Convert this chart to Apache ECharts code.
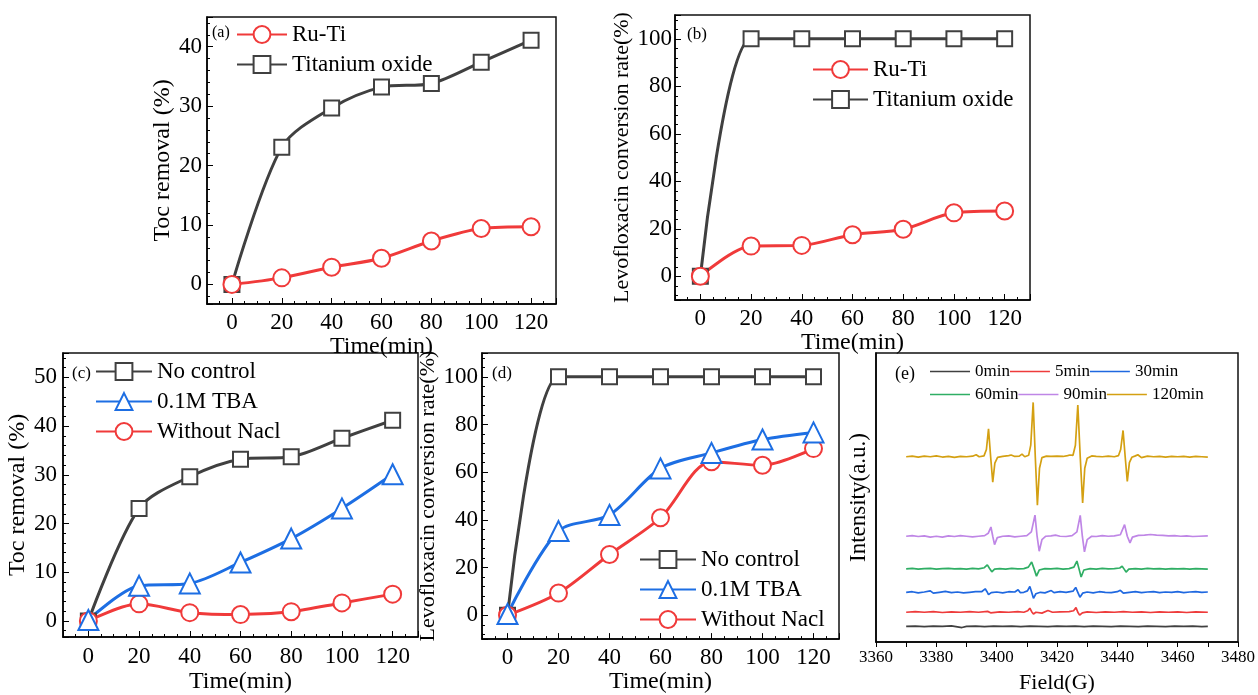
<!DOCTYPE html>
<html>
<head>
<meta charset="utf-8">
<script src="https://cdn.jsdelivr.net/npm/echarts@6/dist/echarts.min.js"></script>
<style>html,body{margin:0;padding:0;background:#fff;}#c{width:1258px;height:695px;}</style>
</head>
<body>
<div id="c"></div>
<script>
// ---------- data ----------
const time = [0, 20, 40, 60, 80, 100, 120];
const timeTicks = [0, 20, 40, 60, 80, 100, 120];
const tocTicksA = [0, 10, 20, 30, 40];
const tocTicksC = [0, 10, 20, 30, 40, 50];
const convTicks = [0, 20, 40, 60, 80, 100];
const fieldTicks = [3360, 3380, 3400, 3420, 3440, 3460, 3480];

const aRuTi = [0, 1.1, 2.9, 4.4, 7.3, 9.4, 9.7];
const aTiO2 = [0, 23.1, 29.7, 33.2, 33.8, 37.4, 41.1];
const bRuTi = [0, 12.7, 13.0, 17.5, 19.8, 26.7, 27.5];
const bTiO2 = [0, 100, 100, 100, 100, 100, 100];
const cNoControl = [0, 23.1, 29.6, 33.2, 33.7, 37.5, 41.2];
const cTBA = [0.2, 7.2, 7.7, 12.0, 16.9, 23.1, 30.1];
const cNoNaCl = [0, 3.5, 1.7, 1.3, 1.9, 3.7, 5.5];
const dNoControl = [0, 100, 100, 100, 100, 100, 100];
const dTBA = [0.5, 35.3, 42.1, 61.6, 68.1, 73.7, 76.7];
const dNoNaCl = [0, 9.3, 25.5, 40.9, 64.4, 62.9, 69.9];

// EPR spectra: baseline offsets (stacking) and [field, signal] pairs
const eprNames = ['0min', '5min', '30min', '60min', '90min', '120min'];
const eprBaseline = [5.4, 10.3, 17.2, 25.3, 36.6, 64.1];
const epr0 = [[3370,0],[3373,0.1],[3376,-0.1],[3379,0.1],[3382,0],[3385,0.15],[3388.5,-0.4],[3390,0],[3393,0.1],[3396,-0.1],[3399,0.1],[3402,0],[3405,0.1],[3408,-0.1],[3411,0.1],[3414,0],[3417,-0.1],[3420,0.1],[3423,0],[3426,0.1],[3429,-0.1],[3432,0.1],[3435,0],[3438,-0.1],[3441,0.1],[3444,0],[3447,-0.1],[3450,0.1],[3453,0],[3456,-0.1],[3459,0.1],[3462,0],[3465,0.1],[3468,-0.1],[3470,0]];
const epr5 = [[3370,0],[3373,0.2],[3376,0],[3379,0.2],[3382,-0.1],[3385,0.1],[3388,0],[3391,0.2],[3394,0],[3397,0.3],[3398,-0.2],[3401,0.1],[3404,0],[3407,0.2],[3409,0],[3410.3,0.5],[3411,1.4],[3411.6,0.2],[3412.2,-0.6],[3413,0],[3415,-0.3],[3417,0.6],[3418.5,0],[3421,0.1],[3424,0.2],[3425.5,0.5],[3426.3,1.6],[3426.9,0],[3427.5,-1.0],[3428.4,-0.2],[3430,0.1],[3433,-0.1],[3436,0.1],[3439,0],[3442,0.2],[3445,0],[3448,0.1],[3451,-0.1],[3454,0.1],[3457,0],[3460,0.1],[3463,-0.1],[3466,0.1],[3470,0]];
const epr30 = [[3370,0],[3372,0.2],[3374,-0.2],[3376,0.1],[3378,0.5],[3379,-0.3],[3381,0],[3383,0.3],[3385,-0.1],[3387,0.1],[3389,-0.2],[3391,0],[3393,0.2],[3395,0.2],[3396.2,1.2],[3396.8,0.2],[3397.3,-0.8],[3398.2,-0.1],[3400,0.1],[3402,-0.2],[3404,0.2],[3406,0.1],[3407.1,0.9],[3407.8,-0.1],[3409,0],[3410.2,0.5],[3411,2.0],[3411.6,0],[3412.2,-2.1],[3413,-0.5],[3414.5,0],[3416,-0.2],[3418.1,0.6],[3419,-0.1],[3421,0.2],[3423,0],[3425.3,0.4],[3426.2,1.7],[3426.9,0],[3427.6,-1.7],[3428.5,-0.3],[3430,0.1],[3432,-0.2],[3434,0.2],[3436,0],[3438,-0.1],[3440,0.2],[3441,0.7],[3442,-0.3],[3444,0],[3446,0.2],[3448,-0.1],[3450,0.1],[3452,0.2],[3454,-0.1],[3456,0.1],[3458,0],[3460,0.2],[3462,-0.1],[3464,0.1],[3466,0.2],[3468,0],[3470,0.1]];
const epr60 = [[3370,0],[3372,0.2],[3374,-0.1],[3376,0.1],[3378,0.2],[3380,-0.1],[3382,0.1],[3384,0.2],[3386,0],[3388,0.1],[3390,-0.1],[3392,0.2],[3394,0],[3395.9,0.4],[3396.9,1.4],[3397.6,0.2],[3398.4,-1.0],[3399.3,-0.1],[3401,0.1],[3403,-0.1],[3405,0.2],[3407,0],[3409,0.1],[3410.5,0.6],[3411.6,2.4],[3412.4,0],[3413.2,-2.5],[3414.1,-0.4],[3416,0.1],[3418,0],[3420,0.2],[3422,-0.1],[3424,0.1],[3425.6,0.6],[3426.6,2.7],[3427.3,0],[3428,-2.8],[3428.9,-0.4],[3431,0.1],[3433,-0.1],[3435,0.2],[3437,0],[3439,0.1],[3440.8,0.3],[3441.6,0.9],[3442.2,0],[3442.9,-1.1],[3443.8,-0.1],[3446,0.1],[3448,-0.1],[3450,0.2],[3452,0],[3454,0.1],[3456,-0.1],[3458,0.1],[3460,0],[3462,0.1],[3464,-0.1],[3466,0.1],[3468,0],[3470,-0.1]];
const epr90 = [[3370,0],[3372,0.2],[3374,-0.1],[3376,0.1],[3378,-0.3],[3380,0],[3382,-0.3],[3384,0.1],[3386,-0.1],[3388,0.2],[3390,0],[3392,-0.2],[3394,0],[3396,0.2],[3397.2,1.0],[3398.1,3.2],[3398.7,0],[3399.3,-2.9],[3400.2,-0.5],[3402,0],[3404,0.1],[3406,-0.2],[3408,0],[3410,0.2],[3411.5,1.5],[3412.7,7.3],[3413.4,0],[3414.1,-5.2],[3415,-1.2],[3416.3,0],[3418,0.1],[3419.5,0.4],[3421,0],[3423,-0.1],[3425,0.2],[3426.6,1.5],[3427.7,7.2],[3428.4,0],[3429.1,-5.4],[3430,-1.2],[3431.5,0],[3433,-0.1],[3435,0.2],[3437,0],[3439,0.1],[3441,0.5],[3442.4,4.0],[3443.3,0],[3444.2,-2.3],[3445,-0.3],[3447,0.3],[3449,0.4],[3451,0.6],[3453,0.4],[3455,0.3],[3457,0.1],[3459,0.2],[3461,0],[3463,0.1],[3465,-0.1],[3467,0],[3470,0.1]];
const epr120 = [[3370,0],[3372,0.2],[3374,-0.1],[3376,0.2],[3378,0],[3380,0.3],[3382,-0.1],[3384,0.1],[3386,-0.2],[3388,0.1],[3390,0],[3392,0.2],[3393.2,0.7],[3394.2,0],[3395.8,0.3],[3396.6,2.5],[3397.3,9.7],[3398.0,0],[3398.7,-8.8],[3399.4,-2.2],[3400.3,-0.2],[3402,0.1],[3404,0.4],[3404.8,0.6],[3406,0.1],[3407.5,0.2],[3408.4,0.9],[3409.3,0],[3410.6,0.5],[3411.3,4],[3412.1,18.8],[3412.8,0],[3413.5,-16.8],[3414.2,-4],[3415,-0.3],[3416.5,0.2],[3418,0.1],[3420,0.2],[3422,0.1],[3423.5,0.4],[3424.3,0.6],[3425.3,0.5],[3426.1,4],[3426.9,17.9],[3427.7,0],[3428.5,-16.0],[3429.2,-4],[3430,-0.5],[3431.5,0.3],[3433,0.1],[3435,0],[3437,0.2],[3439,0],[3440.4,0.4],[3441.1,2.5],[3441.9,9.1],[3442.6,0],[3443.3,-8.5],[3444,-2],[3444.8,-0.2],[3446,0.3],[3446.8,0.7],[3448,-0.3],[3450,0.2],[3452,0],[3454,0.1],[3456,-0.1],[3458,0.1],[3460,0],[3462,0.1],[3464,-0.1],[3466,0.1],[3468,0],[3470,-0.1]];
const eprData = [epr0, epr5, epr30, epr60, epr90, epr120];

// ---------- styles ----------
const FONT = 'Liberation Serif';
const RED = '#f03a3a', GRAY = '#404040', BLUE = '#1d6ee3';
const eprColors = ['#404040', '#ee3b3b', '#1f68e0', '#2fae64', '#bf86e6', '#d4a012'];

const grids = [
  {left: 207, top: 17, width: 349, height: 287},
  {left: 675, top: 15, width: 355, height: 285},
  {left: 63, top: 353, width: 355, height: 290},
  {left: 482, top: 353, width: 357, height: 289},
  {left: 876, top: 353, width: 364, height: 289}
].map(g => Object.assign({show: true, borderColor: '#111', borderWidth: 1.5, backgroundColor: 'transparent'}, g));

function timeAxis(gi, labelMargin, nameGap) {
  return {
    type: 'value', gridIndex: gi, min: -10, max: 130, splitNumber: 7,
    name: 'Time(min)', nameLocation: 'middle', nameGap: nameGap,
    nameTextStyle: {fontFamily: FONT, fontSize: 24, color: '#000'},
    axisLine: {show: true, onZero: false, lineStyle: {color: '#000', width: 1.5}},
    axisTick: {show: true, inside: true, length: 6, lineStyle: {color: '#000', width: 1}},
    minorTick: {show: true, splitNumber: 4, length: 3, lineStyle: {color: '#000', width: 1}},
    splitLine: {show: false},
    axisLabel: {margin: labelMargin, fontFamily: FONT, fontSize: 23, color: '#000',
      formatter: v => timeTicks.includes(v) ? String(v) : ''}
  };
}
function valAxis(gi, min, max, split, ticks, name, nameSize, nameGap, labelMargin) {
  return {
    type: 'value', gridIndex: gi, min: min, max: max, splitNumber: split,
    name: name, nameLocation: 'middle', nameGap: nameGap,
    nameTextStyle: {fontFamily: FONT, fontSize: nameSize, color: '#000'},
    axisLine: {show: true, onZero: false, lineStyle: {color: '#000', width: 1.5}},
    axisTick: {show: true, inside: true, length: 6, lineStyle: {color: '#000', width: 1}},
    minorTick: {show: true, splitNumber: 5, length: 3, lineStyle: {color: '#000', width: 1}},
    splitLine: {show: false},
    axisLabel: {margin: labelMargin, fontFamily: FONT, fontSize: 23, color: '#000',
      formatter: v => ticks.includes(v) ? String(v) : ''}
  };
}

function ser(name, vals, color, symbol, size, gi, smooth) {
  return {
    type: 'line', name: name, xAxisIndex: gi, yAxisIndex: gi,
    data: time.map((t, i) => [t, vals[i]]),
    smooth: smooth, symbol: symbol, symbolSize: size, showAllSymbol: true,
    lineStyle: {color: color, width: 3},
    itemStyle: {color: '#fff', borderColor: color, borderWidth: 2},
    emphasis: {disabled: true}, silent: true
  };
}

const series = [
  ser('Titanium oxide', aTiO2, GRAY, 'rect', 15, 0, 0.3),
  ser('Ru-Ti', aRuTi, RED, 'circle', 17, 0, 0.3),
  ser('Titanium oxide', bTiO2, GRAY, 'rect', 15, 1, 0.3),
  ser('Ru-Ti', bRuTi, RED, 'circle', 17, 1, 0.3),
  ser('No control', cNoControl, GRAY, 'rect', 15, 2, 0.3),
  ser('Without Nacl', cNoNaCl, RED, 'circle', 17, 2, 0.3),
  ser('0.1M TBA', cTBA, BLUE, 'triangle', 20, 2, 0.3),
  ser('No control', dNoControl, GRAY, 'rect', 15, 3, 0.3),
  ser('Without Nacl', dNoNaCl, RED, 'circle', 17, 3, 0.3),
  ser('0.1M TBA', dTBA, BLUE, 'triangle', 20, 3, 0.3)
];
eprData.forEach((d, k) => {
  series.push({
    type: 'line', name: eprNames[k], xAxisIndex: 4, yAxisIndex: 4,
    data: d.map(p => [p[0], p[1] + eprBaseline[k]]),
    symbol: 'none', smooth: false,
    lineStyle: {color: eprColors[k], width: 1.7},
    itemStyle: {color: eprColors[k]},
    emphasis: {disabled: true}, silent: true
  });
});

const legendText = {fontFamily: FONT, fontSize: 23, color: '#000'};
function leg(data, left, top, itemWidth) {
  return {data: data, orient: 'vertical', left: left, top: top, padding: 0,
    itemWidth: itemWidth, itemHeight: 21, itemGap: 7, textStyle: legendText,
    selectedMode: false};
}
function eprLeg(data, top) {
  return {data: data, orient: 'horizontal', left: 930, top: top, padding: 0,
    icon: 'rect', itemWidth: 40, itemHeight: 1.6, itemGap: 0,
    textStyle: {fontFamily: FONT, fontSize: 17, color: '#000', width: 44},
    selectedMode: false};
}

const option = {
  animation: false,
  textStyle: {fontFamily: FONT},
  grid: grids,
  xAxis: [
    timeAxis(0, 7, 24),
    timeAxis(1, 7, 28),
    timeAxis(2, 8, 33),
    timeAxis(3, 7, 28),
    {
      type: 'value', gridIndex: 4, min: 3360, max: 3480, interval: 20,
      name: 'Field(G)', nameLocation: 'middle', nameGap: 30,
      nameTextStyle: {fontFamily: FONT, fontSize: 22, color: '#000'},
      axisLine: {show: true, onZero: false, lineStyle: {color: '#000', width: 1.5}},
      axisTick: {show: true, inside: false, length: 5, lineStyle: {color: '#000', width: 1}},
      minorTick: {show: true, splitNumber: 2, length: 5, lineStyle: {color: '#000', width: 1}},
      splitLine: {show: false},
      axisLabel: {margin: 7, fontFamily: FONT, fontSize: 17, color: '#000',
        formatter: v => fieldTicks.includes(v) ? String(v) : ''}
    }
  ],
  yAxis: [
    valAxis(0, -3.3, 45, 5, tocTicksA, 'Toc removal (%)', 24, 28, 5),
    valAxis(1, -10, 110, 6, convTicks, 'Levofloxacin conversion rate(%)', 22, 38, 3),
    valAxis(2, -3.3, 55, 6, tocTicksC, 'Toc removal (%)', 24, 27, 6),
    valAxis(3, -10, 110, 6, convTicks, 'Levofloxacin conversion rate(%)', 22, 39, 4),
    {
      type: 'value', gridIndex: 4, min: 0, max: 100,
      name: 'Intensity(a.u.)', nameLocation: 'middle', nameGap: 6,
      nameTextStyle: {fontFamily: FONT, fontSize: 23, color: '#000'},
      axisLine: {show: true, onZero: false, lineStyle: {color: '#000', width: 1.5}},
      axisTick: {show: false}, axisLabel: {show: false}, splitLine: {show: false}
    }
  ],
  legend: [
    leg(['Ru-Ti', 'Titanium oxide'], 236, 23, 50),
    leg(['Ru-Ti', 'Titanium oxide'], 812, 58, 55),
    leg(['No control', '0.1M TBA', 'Without Nacl'], 95, 360, 56),
    leg(['No control', '0.1M TBA', 'Without Nacl'], 639, 548, 56),
    eprLeg(['0min', '5min', '30min'], 363),
    eprLeg(['60min', '90min', '120min'], 386)
  ],
  graphic: [
    {type: 'text', left: 212, top: 25, style: {text: '(a)', font: '16px "Liberation Serif"', fill: '#000'}},
    {type: 'text', left: 687, top: 26, style: {text: '(b)', font: '17px "Liberation Serif"', fill: '#000'}},
    {type: 'text', left: 72, top: 365, style: {text: '(c)', font: '17px "Liberation Serif"', fill: '#000'}},
    {type: 'text', left: 492, top: 365, style: {text: '(d)', font: '17px "Liberation Serif"', fill: '#000'}},
    {type: 'text', left: 895, top: 365, style: {text: '(e)', font: '18px "Liberation Serif"', fill: '#000'}}
  ],
  series: series
};

const chart = echarts.init(document.getElementById('c'), null, {renderer: 'canvas'});
chart.setOption(option);
</script>
</body>
</html>
